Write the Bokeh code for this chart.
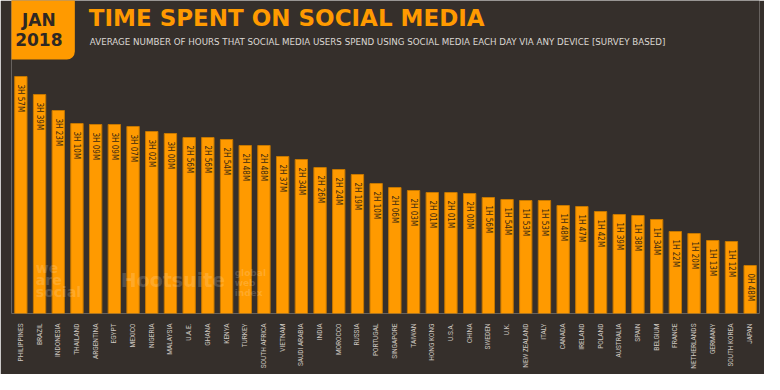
import math
from bokeh.plotting import figure
from bokeh.models import ColumnDataSource, FactorRange, Range1d, Label, BoxAnnotation
from bokeh.core.properties import value
from bokeh.embed import file_html
from bokeh.resources import INLINE

countries = ["PHILIPPINES", "BRAZIL", "INDONESIA", "THAILAND", "ARGENTINA", "EGYPT",
             "MEXICO", "NIGERIA", "MALAYSIA", "U.A.E.", "GHANA", "KENYA", "TURKEY",
             "SOUTH AFRICA", "VIETNAM", "SAUDI ARABIA", "INDIA", "MOROCCO", "RUSSIA",
             "PORTUGAL", "SINGAPORE", "TAIWAN", "HONG KONG", "U.S.A.", "CHINA", "SWEDEN",
             "U.K.", "NEW ZEALAND", "ITALY", "CANADA", "IRELAND", "POLAND", "AUSTRALIA",
             "SPAIN", "BELGIUM", "FRANCE", "NETHERLANDS", "GERMANY", "SOUTH KOREA", "JAPAN"]
hours = [3, 3, 3, 3, 3, 3, 3, 3, 3, 2, 2, 2, 2, 2, 2, 2, 2, 2, 2, 2,
         2, 2, 2, 2, 2, 1, 1, 1, 1, 1, 1, 1, 1, 1, 1, 1, 1, 1, 1, 0]
mins = [57, 39, 23, 10, 9, 9, 7, 2, 0, 56, 56, 54, 48, 48, 37, 34, 26, 24, 19, 10,
        6, 3, 1, 1, 0, 56, 54, 53, 53, 48, 47, 42, 39, 38, 34, 22, 20, 13, 12, 48]

total = [h * 60 + m for h, m in zip(hours, mins)]
labels = [f"{h}H {m:02d}M" for h, m in zip(hours, mins)]

BG = "#352f2b"
ORANGE = "#ff9a00"
NARROW = "DejaVu Sans Condensed"

src = ColumnDataSource(dict(country=countries, total=total, label=labels))

p = figure(width=764, height=374, x_range=FactorRange(*countries), y_range=Range1d(0, 313),
           output_backend="svg", toolbar_location=None,
           min_border_left=11, min_border_right=5, min_border_top=0, min_border_bottom=61)
p.background_fill_color = BG
p.border_fill_color = BG
p.outline_line_color = None
p.xgrid.visible = False
p.ygrid.visible = False
p.yaxis.visible = False

p.vbar(x="country", top="total", width=0.66, source=src,
       fill_color=ORANGE, line_color="#c47700", line_width=1)

p.text(x="country", y="total", text="label", source=src, angle=-math.pi / 2,
       y_offset=8, text_align="left", text_baseline="middle",
       text_font=value(NARROW), text_font_size="8px",
       text_color="#3b2a12")

ax = p.xaxis[0]
ax.major_label_orientation = math.pi / 2
ax.axis_line_color = None
ax.major_tick_line_color = None
ax.minor_tick_line_color = None
ax.major_label_standoff = 4
ax.major_label_text_font = "Roboto"
ax.major_label_text_font_size = "6.5px"
ax.major_label_text_color = "#cfc8c1"


def X(rx):
    return (rx - 18.6) / 18.72


def Y(ry):
    return 321 - ry


p.add_layout(BoxAnnotation(left=X(10), right=X(82), bottom=Y(67), top=Y(-20),
                           fill_color=ORANGE, fill_alpha=1, line_color=None,
                           border_radius=8))

for txt, ry in [("JAN", 27), ("2018", 47)]:
    p.add_layout(Label(x=X(46), y=Y(ry), text=txt, text_align="center",
                       text_baseline="middle", text_font="DejaVu Sans",
                       text_font_style="bold", text_font_size="17px",
                       text_color="#2e2824"))

p.add_layout(Label(x=X(96), y=Y(25), text="TIME SPENT ON SOCIAL MEDIA",
                   text_align="left", text_baseline="middle", text_font="DejaVu Sans",
                   text_font_style="bold", text_font_size="23px", text_color=ORANGE))
p.add_layout(Label(x=X(97), y=Y(49),
                   text="AVERAGE NUMBER OF HOURS THAT SOCIAL MEDIA USERS SPEND USING SOCIAL MEDIA EACH DAY VIA ANY DEVICE [SURVEY BASED]",
                   text_align="left", text_baseline="middle", text_font="DejaVu Sans",
                   text_font_size="8.7px", text_color="#dcd8d4"))

# watermarks
WM = 0.17
for txt, ry in [("we", 275), ("are", 287), ("social", 299)]:
    p.add_layout(Label(x=X(43), y=Y(ry), text=txt, text_align="left",
                       text_baseline="middle", text_font="DejaVu Sans",
                       text_font_style="bold", text_font_size="14px",
                       text_color="white", text_alpha=WM))
p.add_layout(Label(x=X(128), y=Y(287), text="Hootsuite", text_align="left",
                   text_baseline="middle", text_font="DejaVu Sans",
                   text_font_style="bold", text_font_size="19px",
                   text_color="white", text_alpha=WM))
for txt, ry in [("global", 280), ("web", 290), ("index", 300)]:
    p.add_layout(Label(x=X(242), y=Y(ry), text=txt, text_align="left",
                       text_baseline="middle", text_font="DejaVu Sans",
                       text_font_style="bold", text_font_size="9px",
                       text_color="white", text_alpha=WM))

open("out.html", "w").write(file_html(p, INLINE))
